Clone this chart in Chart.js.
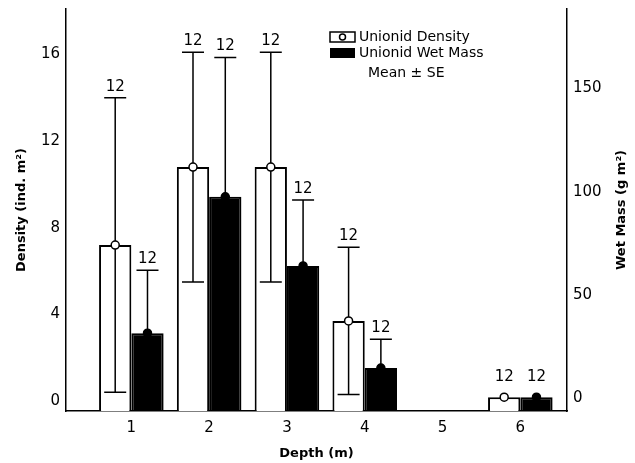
<!DOCTYPE html>
<html>
<head>
<meta charset="utf-8">
<script src="https://cdn.jsdelivr.net/npm/chart.js@4.4.1/dist/chart.umd.min.js"></script>
<style>
html, body { margin: 0; padding: 0; background: #fff; }
#wrap { width: 635px; height: 463px; position: relative; }
</style>
</head>
<body>
<div id="wrap"><canvas id="chart_unionid"></canvas></div>
<script>
// depth categories (m) and values
var depths = [1, 2, 3, 4, 5, 6];
var depthTicks = [1, 2, 3, 4, 5, 6];
var density = [7.2, 10.8, 10.8, 3.7, null, 0.18];
var densitySE = [6.8, 5.3, 5.3, 3.4, null, 0];
var wetMass = [31.4, 97.5, 64, 14.5, null, 0.4];
var wetMassSE = [30.5, 67.5, 32, 14, null, 0];
var sampleN = [12, 12, 12, 12, null, 12];
var densityTicks = [0, 4, 8, 12, 16];
var massTicks = [0, 50, 100, 150];

var densityTitle = 'Density (ind. m\u00B2)';
var massTitle = 'Wet Mass (g m\u00B2)';
var depthTitle = 'Depth (m)';
var legendNote = 'Mean \u00B1 SE';

// axis ranges
var depthMin = 0.16, depthMax = 6.6;
var densityMin = -0.46, densityMax = 18.1;
var massMin = -6.3, massMax = 188.5;

Chart.defaults.font.family = '"DejaVu Sans", sans-serif';
Chart.defaults.color = '#000';

function pts(vals){
	return depths.map(function(d, i){ return {x: d, y: vals[i]}; });
}

function noPad(s){
	s.paddingTop = 0;
	s.paddingBottom = 0;
}

var errorBars = {
	id: 'errorBars',
	afterDatasetsDraw: function(chart){
		var ctx = chart.ctx;
		var sets = [[density, densitySE, '#fff'], [wetMass, wetMassSE, '#000']];
		ctx.save();
		sets.forEach(function(s, di){
			var meta = chart.getDatasetMeta(di);
			var scale = chart.scales[meta.yAxisID];
			meta.data.forEach(function(bar, i){
				var m = s[0][i];
				if(m == null) return;
				var se = s[1][i];
				var x = bar.x, y = bar.y;
				var hi = scale.getPixelForValue(m + se);
				var lo = scale.getPixelForValue(m - se);
				ctx.strokeStyle = '#000';
				ctx.lineWidth = 1.5;
				if(se > 0){
					ctx.beginPath();
					ctx.moveTo(x, lo); ctx.lineTo(x, hi);
					ctx.moveTo(x - 11, hi); ctx.lineTo(x + 11, hi);
					ctx.moveTo(x - 11, lo); ctx.lineTo(x + 11, lo);
					ctx.stroke();
				}
				ctx.beginPath();
				ctx.arc(x, y, 4, 0, Math.PI * 2);
				ctx.fillStyle = s[2];
				ctx.fill();
				ctx.stroke();
				ctx.fillStyle = '#000';
				ctx.font = '15px "DejaVu Sans", sans-serif';
				ctx.textAlign = 'center';
				ctx.textBaseline = 'middle';
				var ly = se > 0 ? hi - 11 : y - 20;
				ctx.fillText(String(sampleN[i]), x, ly);
			});
		});
		ctx.restore();
	},
	afterDraw: function(chart){
		var ctx = chart.ctx;
		var a = chart.chartArea;
		var lx = a.left + 264, ly = a.top + 23;
		ctx.save();
		ctx.lineWidth = 1.5;
		ctx.strokeStyle = '#000';
		ctx.fillStyle = '#fff';
		ctx.fillRect(lx, ly, 25, 10);
		ctx.strokeRect(lx, ly, 25, 10);
		ctx.beginPath();
		ctx.arc(lx + 12.5, ly + 5, 3, 0, Math.PI * 2);
		ctx.stroke();
		ctx.fillStyle = '#000';
		ctx.fillRect(lx, ly + 16, 25, 10);
		ctx.font = '14px "DejaVu Sans", sans-serif';
		ctx.textBaseline = 'middle';
		ctx.textAlign = 'left';
		ctx.fillText(chart.data.datasets[0].label, lx + 29, ly + 5);
		ctx.fillText(chart.data.datasets[1].label, lx + 29, ly + 21);
		ctx.fillText(legendNote, lx + 38, ly + 41);
		// right axis title, reading bottom to top like the left one
		ctx.font = 'bold 13px "DejaVu Sans", sans-serif';
		ctx.textAlign = 'center';
		ctx.translate(a.right + 55, (a.top + a.bottom) / 2);
		ctx.rotate(-Math.PI / 2);
		ctx.fillText(massTitle, 0, 0);
		ctx.restore();
	}
};

var ctx_u = document.getElementById('chart_unionid').getContext('2d');

var chart_u = new Chart(ctx_u, {
	type: 'bar',
	data: {
		datasets: [
		{
			label: 'Unionid Density',
			data: pts(density),
			yAxisID: 'y',
			base: densityMin,
			backgroundColor: '#fff',
			borderColor: '#000',
			borderWidth: 2,
			categoryPercentage: 0.83,
			barPercentage: 1,
		},
		{
			label: 'Unionid Wet Mass',
			data: pts(wetMass),
			yAxisID: 'y2',
			base: massMin,
			backgroundColor: '#000',
			borderColor: '#000',
			borderWidth: 2,
			categoryPercentage: 0.83,
			barPercentage: 1,
		}]
	},
	options: {
		responsive: true,
		maintainAspectRatio: false,
		animation: false,
		layout: { padding: { top: 9, left: 0, right: 0, bottom: 0 } },
		plugins: {
			legend: { display: false },
			tooltip: { enabled: false }
		},
		scales: {
			x: {
				type: 'linear',
				offset: false,
				min: depthMin,
				max: depthMax,
				afterBuildTicks: function(s){ s.ticks = depthTicks.map(function(v){ return {value: v}; }); },
				afterFit: function(s){ s.height = 52; s.paddingLeft = 0; s.paddingRight = 0; },
				grid: { display: false, drawTicks: false },
				border: { color: '#000', width: 1.5 },
				ticks: { padding: 8, font: { size: 15 }, color: '#000' },
				title: { display: true, text: depthTitle, font: { size: 13, weight: 'bold' }, padding: { top: 0, bottom: 2 } }
			},
			y: {
				position: 'left',
				min: densityMin,
				max: densityMax,
				afterBuildTicks: function(s){ s.ticks = densityTicks.map(function(v){ return {value: v}; }); },
				afterFit: function(s){ s.width = 66; noPad(s); },
				grid: { display: false, drawTicks: false },
				border: { color: '#000', width: 1.5 },
				ticks: { padding: 6, font: { size: 15 }, color: '#000' },
				title: { display: true, text: densityTitle, font: { size: 13, weight: 'bold' }, padding: { top: 14, bottom: 0 } }
			},
			y2: {
				position: 'right',
				min: massMin,
				max: massMax,
				afterBuildTicks: function(s){ s.ticks = massTicks.map(function(v){ return {value: v}; }); },
				afterFit: function(s){ s.width = 68; noPad(s); },
				grid: { display: false, drawTicks: false },
				border: { color: '#000', width: 1.5 },
				ticks: { padding: 6, font: { size: 15 }, color: '#000' }
			}
		}
	},
	plugins: [errorBars]
});
</script>
</body>
</html>
